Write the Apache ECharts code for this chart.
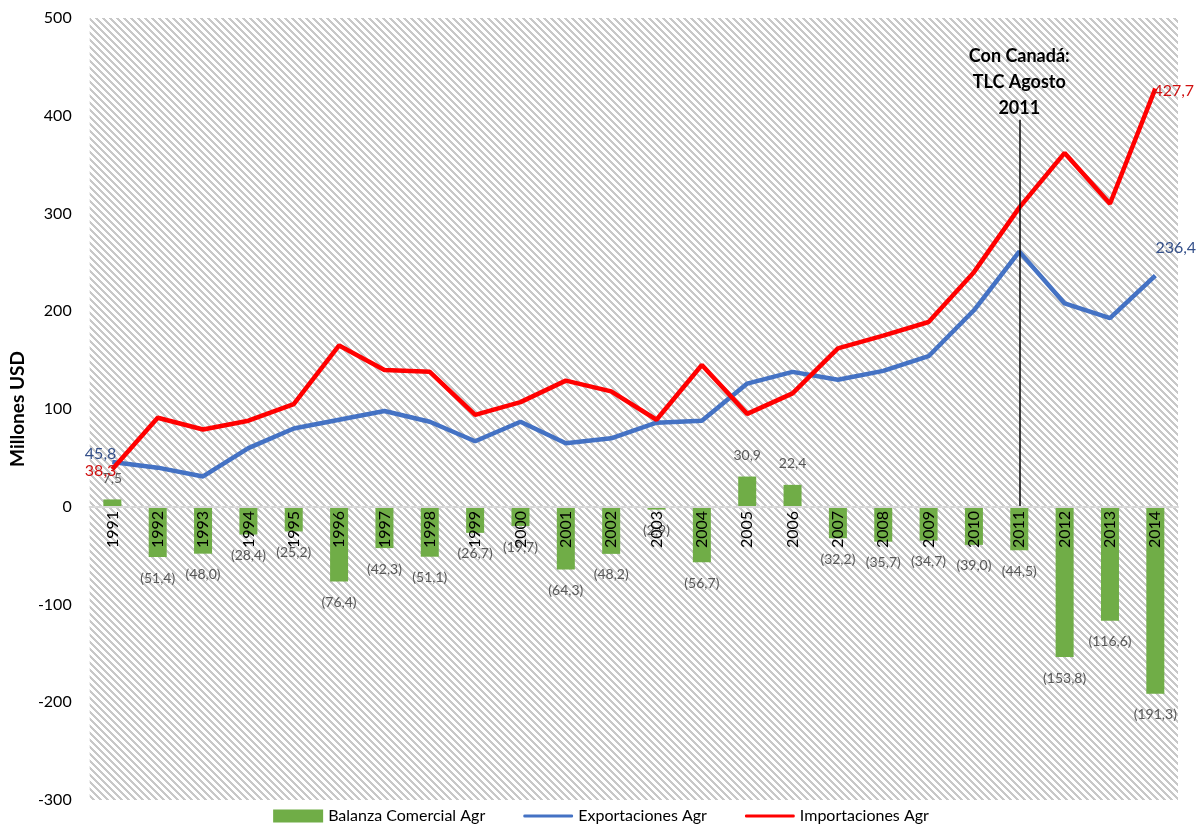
<!DOCTYPE html>
<html>
<head>
<meta charset="utf-8">
<script src="https://cdn.jsdelivr.net/npm/echarts@6/dist/echarts.min.js"></script>
<style>
    html, body { margin: 0; padding: 0; background: #fff; }
    #main { width: 1202px; height: 831px; }
</style>
</head>
<body>
<div id="main"></div>
<script>
    // datos
    var years = ['1991','1992','1993','1994','1995','1996','1997','1998','1999','2000','2001','2002',
                 '2003','2004','2005','2006','2007','2008','2009','2010','2011','2012','2013','2014'];
    var balanza = [7.5, -51.4, -48.0, -28.4, -25.2, -76.4, -42.3, -51.1, -26.7, -19.7, -64.3, -48.2,
                   -2.9, -56.7, 30.9, 22.4, -32.2, -35.7, -34.7, -39.0, -44.5, -153.8, -116.6, -191.3];
    var exportaciones = [45.8, 40, 31, 60, 80, 89, 98, 87, 67, 87, 65, 70,
                         86, 88, 126, 138, 130, 139, 154, 201, 261, 208, 193, 236.4];
    var importaciones = [38.3, 91, 79, 88, 105, 165, 140, 138, 94, 107, 129, 118,
                         89, 145, 95, 116, 162, 175, 189, 240, 306, 362, 310, 427.7];
    var yTicks = [-300, -200, -100, 0, 100, 200, 300, 400, 500];

    var fontFam = 'Lato';

    function coma(v) {
        return Math.abs(v).toFixed(1).replace('.', ',');
    }

    // fondo rayado
    var pat = document.createElement('canvas');
    pat.width = 7; pat.height = 7;
    var ctx = pat.getContext('2d');
    ctx.fillStyle = '#ffffff';
    ctx.fillRect(0, 0, 7, 7);
    ctx.fillStyle = '#c8c8c8';
    for (var y = 0; y < 7; y++) {
        for (var x = 0; x < 7; x++) {
            if ((x - y + 7) % 7 < 3) ctx.fillRect(x, y, 1, 1);
        }
    }

    // icono de línea para la leyenda (esquinas casi invisibles para fijar la caja)
    var lineIcon = 'path://M0,0h0.01v0.01h-0.01z M0,13h0.01v0.01h-0.01z M1.5,5h47a1.5,1.5 0 0 1 0,3h-47a1.5,1.5 0 0 1 0,-3z';

    function endLabels(arr, color, first, last) {
        return arr.map(function (v, i) {
            if (i === 0) return { value: v, label: Object.assign({ show: true, color: color }, first) };
            if (i === arr.length - 1) return { value: v, label: Object.assign({ show: true, color: color }, last) };
            return v;
        });
    }

    var chart = echarts.init(document.getElementById('main'));

    var option = {
        animation: false,
        textStyle: { fontFamily: fontFam },
        grid: {
            left: 89, right: 24, top: 18, bottom: 31,
            show: true,
            borderWidth: 0,
            backgroundColor: { image: pat, repeat: 'repeat' }
        },
        legend: {
            bottom: 2,
            itemGap: 38,
            itemWidth: 50,
            itemHeight: 13,
            textStyle: { fontSize: 16, color: '#000', fontFamily: fontFam },
            data: [
                { name: 'Balanza Comercial Agr', icon: 'rect' },
                { name: 'Exportaciones Agr', icon: lineIcon },
                { name: 'Importaciones Agr', icon: lineIcon }
            ]
        },
        xAxis: {
            type: 'category',
            data: years,
            z: 5,
            position: 'bottom',
            offset: -293,
            axisLine: { onZero: false, lineStyle: { color: '#d9d9d9', width: 2 } },
            axisTick: { show: false },
            axisLabel: { rotate: 90, fontSize: 16, color: '#000', margin: 4, interval: 0 }
        },
        yAxis: {
            type: 'value',
            min: -300, max: 500, interval: 100,
            name: 'Millones USD',
            nameLocation: 'middle',
            nameGap: 58,
            nameTextStyle: { fontSize: 19, fontWeight: 'bold', color: '#000' },
            axisLine: { show: false },
            axisTick: { show: false },
            splitLine: { show: false },
            axisLabel: { fontSize: 16, color: '#000', margin: 18 }
        },
        series: [
            {
                name: 'Balanza Comercial Agr',
                type: 'bar',
                data: balanza,
                barWidth: 18,
                itemStyle: { color: '#70ad47' },
                label: {
                    show: true,
                    position: 'outside',
                    distance: 14,
                    fontSize: 14,
                    color: '#595959',
                    formatter: function (p) {
                        return p.value < 0 ? '(' + coma(p.value) + ')' : coma(p.value);
                    }
                },
                markLine: {
                    symbol: 'none',
                    silent: true,
                    lineStyle: { color: '#000', width: 1.5, type: 'solid' },
                    label: {
                        show: true,
                        position: 'end',
                        distance: -2,
                        formatter: 'Con Canadá:\nTLC Agosto\n2011',
                        fontSize: 18,
                        lineHeight: 26,
                        fontWeight: 'bold',
                        color: '#000',
                        align: 'center'
                    },
                    data: [[{ coord: ['2011', 0] }, { coord: ['2011', 396] }]]
                }
            },
            {
                name: 'Exportaciones Agr',
                type: 'line',
                symbol: 'circle',
                symbolSize: 0.1,
                showAllSymbol: true,
                lineStyle: { color: '#4472c4', width: 4.5 },
                itemStyle: { color: '#4472c4' },
                data: endLabels(exportaciones, '#34508a',
                    { position: 'left', distance: -4, offset: [0, -8], fontSize: 16, formatter: function (p) { return coma(p.value); } },
                    { position: 'right', distance: 0, offset: [0, -28], fontSize: 16, formatter: function (p) { return coma(p.value); } })
            },
            {
                name: 'Importaciones Agr',
                type: 'line',
                symbol: 'circle',
                symbolSize: 0.1,
                showAllSymbol: true,
                lineStyle: { color: '#ff0000', width: 4.5 },
                itemStyle: { color: '#ff0000' },
                data: endLabels(importaciones, '#d01010',
                    { position: 'left', distance: -4, offset: [0, 2], fontSize: 16, formatter: function (p) { return coma(p.value); } },
                    { position: 'right', distance: 0, offset: [-2, 2], fontSize: 16, formatter: function (p) { return coma(p.value); } })
            }
        ]
    };
    chart.setOption(option);
</script>
</body>
</html>
